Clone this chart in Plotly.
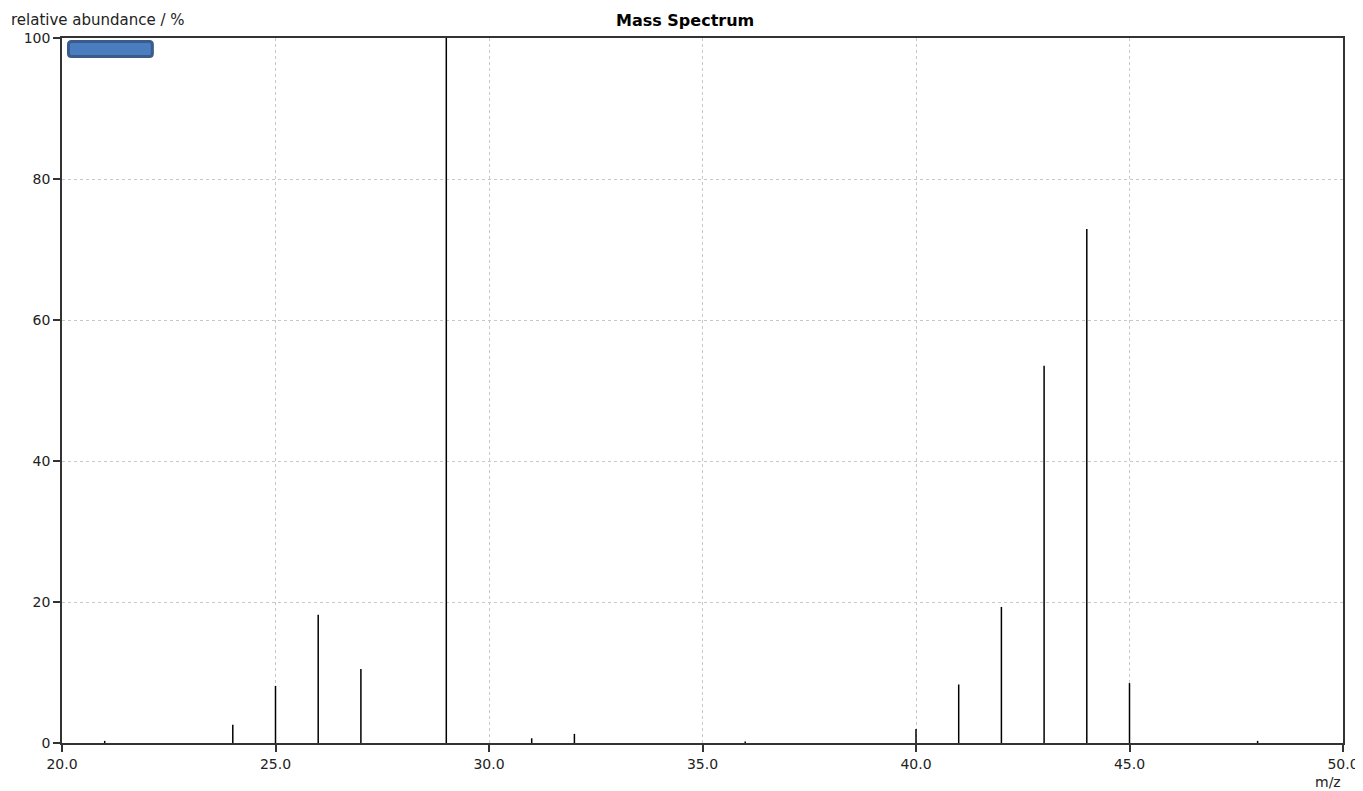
import plotly.graph_objects as go

mz = [21, 24, 25, 26, 27, 29, 31, 32, 36, 40, 41, 42, 43, 44, 45, 48]
abundance = [0.3, 2.6, 8.1, 18.2, 10.5, 100.0, 0.67, 1.3, 0.2, 2.0, 8.3, 19.3, 53.5, 72.9, 8.5, 0.3]
x_ticks = [20, 25, 30, 35, 40, 45, 50]
y_ticks = [0, 20, 40, 60, 80, 100]

xs, ys = [], []
for m, a in zip(mz, abundance):
    xs += [m, m, None]
    ys += [0, a, None]

fig = go.Figure()
fig.add_trace(go.Scatter(x=xs, y=ys, mode="lines",
                         line=dict(color="black", width=1.5),
                         showlegend=False, hoverinfo="skip"))

# page body adds an 8px offset; compensate in the margins
L, T, PW, PH = 54, 30, 1283, 705
W, H = 1363, 791
FONT = "DejaVu Sans, Verdana, sans-serif"

# rounded legend swatch in paper coordinates
x0, x1 = (68.5 - 62) / PW, (152.5 - 62) / PW
y0, y1 = 1 - (56.5 - 38) / PH, 1 - (41.5 - 38) / PH
rx, ry = 3 / PW, 3 / PH
swatch = (f"M {x0+rx},{y0} L {x1-rx},{y0} Q {x1},{y0} {x1},{y0+ry} "
          f"L {x1},{y1-ry} Q {x1},{y1} {x1-rx},{y1} L {x0+rx},{y1} "
          f"Q {x0},{y1} {x0},{y1-ry} L {x0},{y0+ry} Q {x0},{y0} {x0+rx},{y0} Z")

fig.update_layout(
    width=W, height=H,
    margin=dict(l=L, r=W - L - PW, t=T, b=H - T - PH),
    paper_bgcolor="white", plot_bgcolor="white",
    font=dict(family=FONT, size=14, color="black"),
    showlegend=False,
    xaxis=dict(range=[20, 50], tickvals=x_ticks, tickformat=".1f",
               showgrid=True, gridcolor="#c8c8c8", griddash="dot", gridwidth=1,
               showline=True, linecolor="#333333", linewidth=1.5, mirror=True,
               ticks="outside", ticklen=7, tickcolor="#333333", tickwidth=1.5,
               zeroline=False, tickfont=dict(size=14, color="#222222"),
               ticklabeloverflow="allow"),
    yaxis=dict(range=[0, 100], tickvals=y_ticks,
               showgrid=True, gridcolor="#c8c8c8", griddash="dot", gridwidth=1,
               showline=True, linecolor="#333333", linewidth=1.5, mirror=True,
               ticks="outside", ticklen=7, tickcolor="#333333", tickwidth=1.5,
               zeroline=False, tickfont=dict(size=14, color="#222222")),
    annotations=[
        dict(text="<b>Mass Spectrum</b>", xref="paper", yref="paper", x=0.486, y=1,
             yshift=18, xanchor="center", yanchor="middle", showarrow=False,
             font=dict(size=16)),
        dict(text="relative abundance / %", xref="paper", yref="paper", x=0, y=1,
             xshift=-53, yshift=18, xanchor="left", yanchor="middle", showarrow=False,
             font=dict(size=15, color="#222222")),
        dict(text="m/z", xref="paper", yref="paper", x=1, y=0,
             xshift=-15, yshift=-39, xanchor="center", yanchor="middle", showarrow=False,
             font=dict(size=14, color="#222222")),
    ],
    shapes=[
        dict(type="path", xref="paper", yref="paper", path=swatch,
             line=dict(color="#3a5b8c", width=3), fillcolor="#4a7dc0", layer="above"),
    ],
)

fig.write_html("out.html")
